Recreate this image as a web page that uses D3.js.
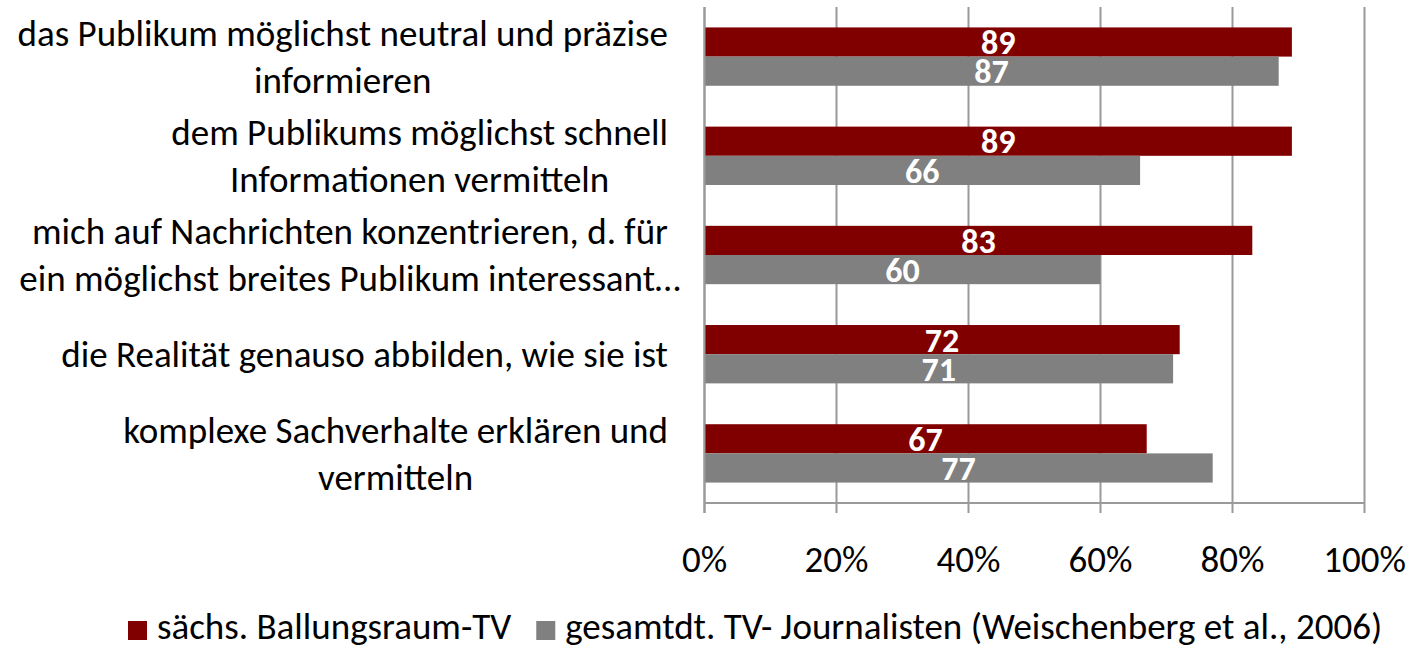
<!DOCTYPE html>
<html><head><meta charset="utf-8">
<script src="https://cdn.jsdelivr.net/npm/d3@7"></script>
<style>
html,body{margin:0;padding:0;background:#fff;}
svg{display:block;font-family:Carlito,Lato,"Open Sans",sans-serif;}
</style></head>
<body>
<svg id="chart" width="1412" height="649"></svg>
<script>
const categories = [
  ["das Publikum möglichst neutral und präzise", "informieren"],
  ["dem Publikums möglichst schnell", "Informationen vermitteln"],
  ["mich auf Nachrichten konzentrieren, d. für", "ein möglichst breites Publikum interessant…"],
  ["die Realität genauso abbilden, wie sie ist"],
  ["komplexe Sachverhalte erklären und", "vermitteln"]
];
const seriesNames = ["sächs. Ballungsraum-TV", "gesamtdt. TV- Journalisten (Weischenberg et al., 2006)"];
const saxonValues = [89, 89, 83, 72, 67];
const germanValues = [87, 66, 60, 71, 77];
const tickValues = [0, 20, 40, 60, 80, 100];
const tickLabels = ["0%", "20%", "40%", "60%", "80%", "100%"];
const colors = ["#800000", "#808080"];

const svg = d3.select("#chart");
const fs = 37;
const x = d3.scaleLinear().domain([0, 100]).range([704.5, 1364.5]);
const y = d3.scaleBand().domain(d3.range(categories.length)).range([7, 503]).paddingInner(0).paddingOuter(0);
const inner = d3.scaleBand().domain([0, 1]).range([0, y.bandwidth()]).paddingOuter(0.7).paddingInner(0);
const series = [saxonValues, germanValues];

// grid lines
const grid = svg.append("g");
grid.selectAll("line").data(tickValues).join("line")
  .attr("x1", d => x(d)).attr("x2", d => x(d))
  .attr("y1", 7).attr("y2", 513)
  .attr("stroke", "#9a9a9a").attr("stroke-width", 2);
// category axis
svg.append("line").attr("x1", x(0)).attr("x2", x(100)).attr("y1", 503).attr("y2", 503)
  .attr("stroke", "#9a9a9a").attr("stroke-width", 2);

// bars
series.forEach((vals, s) => {
  svg.append("g").selectAll("rect").data(vals).join("rect")
    .attr("x", x(0))
    .attr("y", (d, i) => y(i) + inner(s))
    .attr("width", d => x(d) - x(0))
    .attr("height", inner.bandwidth())
    .attr("fill", colors[s]);
});
// left axis line
svg.append("line").attr("x1", x(0)).attr("x2", x(0)).attr("y1", 7).attr("y2", 513)
  .attr("stroke", "#9a9a9a").attr("stroke-width", 2);

// data labels
series.forEach((vals, s) => {
  svg.append("g").selectAll("text").data(vals).join("text")
    .attr("x", d => (x(0) + x(d)) / 2)
    .attr("y", (d, i) => y(i) + inner(s) + inner.bandwidth() / 2)
    .attr("dy", "0.36em")
    .attr("text-anchor", "middle")
    .attr("fill", "#fff").attr("font-weight", "bold").attr("font-size", 34)
    .text(d => d);
});

// tick labels
svg.append("g").selectAll("text").data(tickValues).join("text")
  .attr("x", d => x(d)).attr("y", 572)
  .attr("text-anchor", "middle").attr("font-size", fs).attr("fill", "#000")
  .text((d, i) => tickLabels[i]);

// category labels
const labelRight = 668;
const lineH = 47;
categories.forEach((lines, i) => {
  const g = svg.append("g");
  const cy = y(i) + y.bandwidth() / 2;
  const t0 = g.append("text").attr("font-size", fs).text(lines[0]);
  const w0 = t0.node().getComputedTextLength();
  t0.remove();
  const cx = labelRight - w0 / 2;
  g.selectAll("text").data(lines).join("text")
    .attr("x", cx)
    .attr("y", (d, j) => cy + (j - (lines.length - 1) / 2) * lineH)
    .attr("dy", "0.35em")
    .attr("text-anchor", "middle").attr("font-size", fs).attr("fill", "#000")
    .text(d => d);
});

// legend
let lx = 128;
const ly = 639;
seriesNames.forEach((name, s) => {
  svg.append("rect").attr("x", lx).attr("y", ly - 18).attr("width", 19).attr("height", 19).attr("fill", colors[s]);
  const t = svg.append("text").attr("x", lx + 29).attr("y", ly).attr("font-size", fs).attr("fill", "#000").text(name);
  lx = lx + 29 + t.node().getComputedTextLength() + 25;
});
</script>
</body></html>
